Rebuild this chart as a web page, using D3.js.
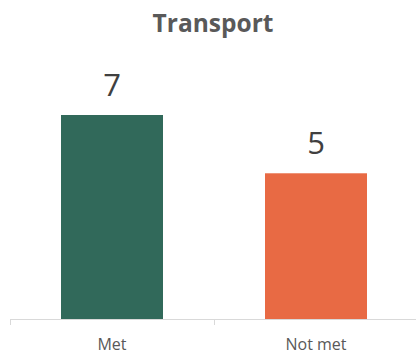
<!DOCTYPE html>
<html><head><meta charset="utf-8">
<script src="https://cdn.jsdelivr.net/npm/d3@7"></script>
<style>html,body{margin:0;padding:0;background:#fff;}svg{display:block;}</style>
</head><body>
<script>
const categories = ["Met", "Not met"];
const values = [7, 5];
const colors = ["#31695a", "#e86a44"];
const title = "Transport";

const W = 416, H = 356;
const svg = d3.select("body").append("svg").attr("width", W).attr("height", H);
const font = "'Open Sans', sans-serif";

const x = d3.scaleBand().domain(categories).range([10, 418]).paddingInner(0.5).paddingOuter(0.25);
const y = d3.scaleLinear().domain([0, 7]).range([319, 115]);

svg.append("text").attr("x", 213).attr("y", 32).attr("text-anchor", "middle")
  .attr("font-family", font).attr("font-weight", 700).attr("font-size", 24.5)
  .attr("fill", "#595959").text(title);

svg.selectAll("rect.bar").data(values).join("rect").attr("class", "bar")
  .attr("x", (d, i) => x(categories[i])).attr("width", x.bandwidth())
  .attr("y", d => y(d)).attr("height", d => y(0) - y(d))
  .attr("fill", (d, i) => colors[i]);

svg.selectAll("text.val").data(values).join("text").attr("class", "val")
  .attr("x", (d, i) => x(categories[i]) + x.bandwidth() / 2)
  .attr("y", d => y(d) - 19).attr("text-anchor", "middle")
  .attr("font-family", font).attr("font-size", 31).attr("fill", "#404040").text(d => d);

// axis
const ax = svg.append("g");
ax.append("line").attr("x1", 10).attr("x2", 418).attr("y1", 319.5).attr("y2", 319.5)
  .attr("stroke", "#d9d9d9").attr("stroke-width", 1);
const step = x.step();
[0, 1, 2].forEach(i => {
  const tx = Math.round(10 + i * step) + 0.5;
  ax.append("line").attr("x1", tx).attr("x2", tx).attr("y1", 319).attr("y2", 325)
    .attr("stroke", "#d9d9d9");
});
ax.selectAll("text").data(categories).join("text")
  .attr("x", d => x(d) + x.bandwidth() / 2).attr("y", 350).attr("text-anchor", "middle")
  .attr("font-family", font).attr("font-size", 16).attr("fill", "#595959").text(d => d);
</script>
</body></html>
